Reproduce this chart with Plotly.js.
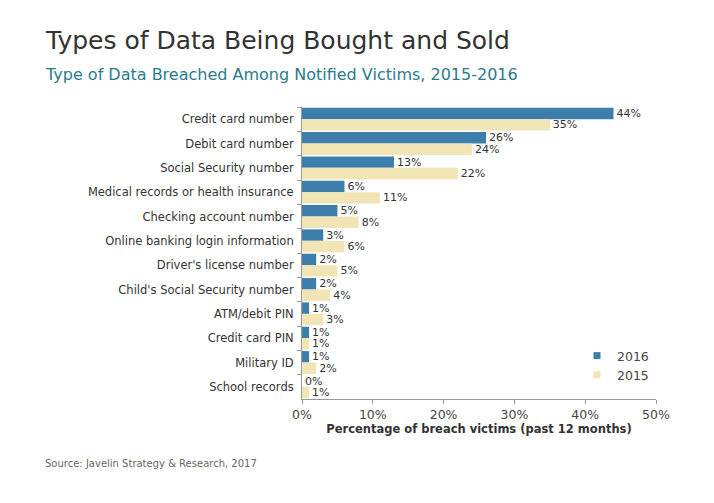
<!DOCTYPE html>
<html>
<head>
<meta charset="utf-8">
<script src="https://cdn.plot.ly/plotly-3.0.1.min.js"></script>
<style>html,body{margin:0;padding:0;background:#fff;}#chart{width:714px;height:503px;}</style>
</head>
<body>
<div id="chart"></div>
<script>
const categories = [
  "Credit card number",
  "Debit card number",
  "Social Security number",
  "Medical records or health insurance",
  "Checking account number",
  "Online banking login information",
  "Driver's license number",
  "Child's Social Security number",
  "ATM/debit PIN",
  "Credit card PIN",
  "Military ID",
  "School records"
];
const values2016 = [44, 26, 13, 6, 5, 3, 2, 2, 1, 1, 1, 0];
const values2015 = [35, 24, 22, 11, 8, 6, 5, 4, 3, 1, 2, 1];
const xTickVals = [0, 10, 20, 30, 40, 50];
const xTickText = ["0%", "10%", "20%", "30%", "40%", "50%"];
const seriesNames = ["2016", "2015"];
const seriesColors = ["#3d7eab", "#f1e4b5"];

const FONT = "DejaVu Sans, Verdana, sans-serif";
const L = 302, R = 656, T = 107, B = 399;
const px = v => (v - L) / (R - L);
const py = v => 1 - (v - T) / (B - T);

const series = [values2016, values2015];
const traces = series.map((vals, i) => ({
  type: "bar", orientation: "h", name: seriesNames[i],
  y: categories, x: vals,
  marker: {color: seriesColors[i]},
  text: vals.map(v => v + "%"),
  textposition: "outside",
  constraintext: "none",
  textfont: {family: FONT, size: 11, color: "#333"},
  cliponaxis: false,
  showlegend: false
}));
// legend-only entries with small square swatches
seriesNames.forEach((n, i) => traces.push({
  type: "scatter", mode: "markers", name: n,
  x: [null], y: [null],
  marker: {symbol: "square", size: 7, color: seriesColors[i]},
  showlegend: true
}));

const layout = {
  width: 714, height: 503,
  margin: {l: L, r: 714 - R, t: T, b: 503 - B, pad: 0},
  paper_bgcolor: "#fff", plot_bgcolor: "#fff",
  font: {family: FONT, color: "#333"},
  barmode: "group",
  bargap: 0.06,
  bargroupgap: 0,
  showlegend: true,
  legend: {
    x: px(577), y: py(341), xanchor: "left", yanchor: "top",
    font: {family: FONT, size: 12.5, color: "#444"},
    bgcolor: "rgba(0,0,0,0)", itemwidth: 30, tracegroupgap: 4
  },
  xaxis: {
    range: [0, 50],
    tickvals: xTickVals, ticktext: xTickText,
    showgrid: false, zeroline: false,
    showline: true, linecolor: "#999", linewidth: 1,
    ticks: "outside", ticklen: 4, tickcolor: "#999",
    tickfont: {family: FONT, size: 12.5, color: "#444"},
    title: {text: "<b>Percentage of breach victims (past 12 months)</b>", font: {family: FONT, size: 11.5, color: "#333"}, standoff: 3}
  },
  yaxis: {
    autorange: "reversed",
    type: "category",
    showgrid: false, zeroline: false,
    showline: true, linecolor: "#999", linewidth: 1,
    ticks: "outside", ticklen: 4, tickcolor: "#999",
    tickson: "boundaries",
    ticklabelstandoff: 5,
    tickfont: {family: FONT, size: 11.5, color: "#333"}
  },
  annotations: [
    {xref: "paper", yref: "paper", x: px(43), y: py(40), xanchor: "left", yanchor: "middle",
     text: "Types of Data Being Bought and Sold", showarrow: false,
     font: {family: FONT, size: 25, color: "#333"}},
    {xref: "paper", yref: "paper", x: px(43), y: py(74), xanchor: "left", yanchor: "middle",
     text: "Type of Data Breached Among Notified Victims, 2015-2016", showarrow: false,
     font: {family: FONT, size: 16, color: "#2b7b8c"}},
    {xref: "paper", yref: "paper", x: px(43), y: py(464), xanchor: "left", yanchor: "middle",
     text: "Source: Javelin Strategy & Research, 2017", showarrow: false,
     font: {family: FONT, size: 10, color: "#666"}}
  ]
};

Plotly.newPlot("chart", traces, layout, {displayModeBar: false, staticPlot: true});
</script>
</body>
</html>
